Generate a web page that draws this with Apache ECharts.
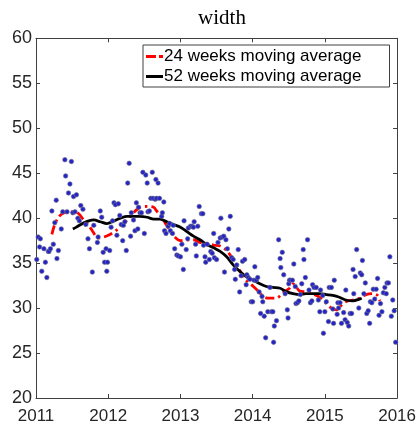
<!DOCTYPE html>
<html>
<head>
<meta charset="utf-8">
<script src="https://cdn.jsdelivr.net/npm/echarts@6/dist/echarts.min.js"></script>
<style>
html,body{margin:0;padding:0;background:#fff;}
#chart{width:419px;height:425px;}
</style>
</head>
<body>
<div id="chart"></div>
<script>
// ---- data (decimal year, width) ----
const titleText = 'width';
const seriesNames = ['24 weeks moving average', '52 weeks moving average'];
const xTicks = [2011, 2012, 2013, 2014, 2015, 2016];
const yTicks = [20, 25, 30, 35, 40, 45, 50, 55, 60];

const scatterPoints = [
[2011.01,35.4],[2011.03,37.9],[2011.05,36.8],[2011.06,37.7],[2011.08,34.1],[2011.11,36.6],[2011.13,35.1],[2011.15,33.4],
[2011.17,36.3],[2011.18,36.3],[2011.20,36.6],[2011.22,40.8],[2011.24,37.1],[2011.26,39.5],[2011.28,42.0],[2011.29,35.5],
[2011.31,36.4],[2011.35,38.8],[2011.37,40.7],[2011.40,46.5],[2011.41,44.7],[2011.43,40.7],[2011.45,42.8],[2011.47,43.8],
[2011.49,46.3],[2011.51,40.6],[2011.52,42.4],[2011.54,40.7],[2011.56,42.6],[2011.58,40.0],[2011.60,39.7],[2011.62,41.4],
[2011.65,41.0],[2011.69,39.3],[2011.72,37.7],[2011.74,36.6],[2011.78,34.0],[2011.80,39.2],[2011.85,37.3],[2011.86,37.9],
[2011.89,40.8],[2011.91,40.1],[2011.93,36.2],[2011.95,35.1],[2011.97,36.6],[2011.98,34.1],[2011.99,35.1],[2012.02,36.4],
[2012.04,39.0],[2012.06,39.7],[2012.08,41.7],[2012.10,41.5],[2012.12,38.1],[2012.14,41.6],[2012.16,40.3],[2012.18,39.3],
[2012.20,37.5],[2012.21,39.2],[2012.23,39.6],[2012.25,36.4],[2012.27,43.9],[2012.29,46.1],[2012.31,38.0],[2012.32,40.6],
[2012.35,39.8],[2012.37,38.6],[2012.39,41.7],[2012.41,38.8],[2012.42,41.2],[2012.44,40.6],[2012.46,40.6],[2012.48,45.1],
[2012.50,38.3],[2012.52,44.8],[2012.54,43.9],[2012.55,40.7],[2012.57,40.8],[2012.59,42.2],[2012.61,45.1],[2012.62,42.2],
[2012.65,42.1],[2012.66,44.3],[2012.67,42.2],[2012.69,43.9],[2012.71,42.2],[2012.74,40.2],[2012.75,40.6],[2012.77,41.8],
[2012.78,38.6],[2012.80,38.3],[2012.83,39.1],[2012.85,39.4],[2012.86,38.6],[2012.89,38.3],[2012.90,39.2],[2012.92,36.6],
[2012.95,35.9],[2012.97,35.8],[2013.00,35.7],[2013.02,37.1],[2013.04,34.3],[2013.05,39.7],[2013.08,36.5],[2013.10,37.7],
[2013.11,38.9],[2013.14,39.1],[2013.16,39.1],[2013.18,39.0],[2013.19,39.6],[2013.21,37.1],[2013.22,35.8],[2013.24,39.1],
[2013.26,41.3],[2013.29,40.5],[2013.31,40.5],[2013.32,37.0],[2013.34,35.7],[2013.35,35.1],[2013.37,37.1],[2013.40,35.4],
[2013.42,36.3],[2013.44,36.1],[2013.46,38.3],[2013.47,35.6],[2013.50,35.4],[2013.52,37.3],[2013.55,37.8],[2013.56,40.0],
[2013.58,37.9],[2013.60,38.0],[2013.61,34.0],[2013.63,37.6],[2013.65,36.6],[2013.67,38.8],[2013.69,40.2],[2013.71,35.6],
[2013.73,35.4],[2013.75,34.3],[2013.76,33.2],[2013.78,34.8],[2013.80,36.5],[2013.82,31.8],[2013.84,33.6],[2013.86,35.2],
[2013.89,35.4],[2013.91,32.6],[2013.92,33.7],[2013.94,33.4],[2013.96,33.2],[2013.98,30.7],[2014.00,30.7],[2014.02,33.1],
[2014.03,34.6],[2014.05,33.1],[2014.07,33.4],[2014.09,31.8],[2014.11,29.4],[2014.13,31.3],[2014.14,30.7],[2014.16,29.1],
[2014.18,26.7],[2014.21,29.6],[2014.24,32.3],[2014.26,29.6],[2014.28,29.6],[2014.29,26.2],[2014.30,28.0],[2014.33,28.6],
[2014.36,37.6],[2014.38,35.5],[2014.39,34.5],[2014.41,36.2],[2014.43,33.7],[2014.45,31.6],[2014.48,29.8],[2014.49,28.9],
[2014.50,32.7],[2014.51,33.1],[2014.52,33.1],[2014.55,33.1],[2014.57,34.9],[2014.59,32.4],[2014.60,30.5],[2014.62,30.6],
[2014.64,30.8],[2014.66,31.5],[2014.68,32.7],[2014.70,36.5],[2014.71,35.4],[2014.73,33.4],[2014.76,37.6],[2014.78,32.0],
[2014.80,30.6],[2014.82,30.8],[2014.83,32.6],[2014.85,32.3],[2014.88,32.3],[2014.91,30.9],[2014.93,29.6],[2014.94,32.0],
[2014.97,31.4],[2014.98,27.2],[2015.00,29.6],[2015.02,30.7],[2015.05,28.5],[2015.06,32.3],[2015.09,32.3],[2015.11,29.9],
[2015.12,28.3],[2015.13,33.1],[2015.17,29.3],[2015.18,30.6],[2015.19,30.0],[2015.21,30.6],[2015.23,28.3],[2015.26,29.5],
[2015.28,28.7],[2015.29,32.0],[2015.31,28.4],[2015.33,28.0],[2015.35,29.4],[2015.37,29.4],[2015.39,34.3],[2015.40,31.6],
[2015.42,33.5],[2015.44,36.5],[2015.47,30.0],[2015.49,33.9],[2015.51,33.7],[2015.52,35.3],[2015.54,31.6],[2015.56,32.8],
[2015.58,29.4],[2015.60,29.7],[2015.62,28.3],[2015.63,30.7],[2015.65,30.6],[2015.67,32.1],[2015.69,31.0],[2015.71,32.1],
[2015.73,33.3],[2015.75,29.2],[2015.77,30.5],[2015.79,29.6],[2015.81,31.7],[2015.83,32.3],[2015.85,31.6],[2015.86,32.8],
[2015.88,32.8],[2015.90,35.7],[2015.92,29.1],[2015.94,30.9],[2015.96,29.7],[2015.98,26.2]
];

const ma24 = [
[2011.22,38.2],[2011.26,39.3],[2011.32,40.2],[2011.39,40.6],[2011.45,40.7],[2011.52,40.7],[2011.59,40.5],[2011.64,40.0],
[2011.71,39.4],[2011.78,38.6],[2011.82,38.1],[2011.86,37.8],[2011.94,37.9],[2012.03,38.2],[2012.12,38.7],[2012.20,39.3],
[2012.26,39.8],[2012.35,40.6],[2012.44,41.2],[2012.54,41.3],[2012.63,41.2],[2012.67,40.8],[2012.74,40.1],[2012.81,39.2],
[2012.90,38.1],[2013.00,37.5],[2013.09,37.6],[2013.18,37.6],[2013.27,37.3],[2013.36,37.2],[2013.46,37.0],[2013.55,36.9],
[2013.64,36.4],[2013.73,35.4],[2013.82,34.2],[2013.91,33.1],[2014.01,32.4],[2014.10,31.7],[2014.14,31.3],[2014.22,31.1],
[2014.28,31.1],[2014.33,31.1],[2014.42,31.7],[2014.51,32.2],[2014.56,32.7],[2014.59,32.5],[2014.65,31.9],[2014.74,31.8],
[2014.83,31.6],[2014.93,31.2],[2015.02,30.5],[2015.09,30.0],[2015.16,29.8],[2015.20,30.1],[2015.29,30.7],[2015.39,30.9],
[2015.48,31.1],[2015.57,31.5],[2015.66,31.6],[2015.73,31.4],[2015.76,30.8]
];

const ma52 = [
[2011.51,38.8],[2011.56,39.0],[2011.62,39.3],[2011.67,39.5],[2011.73,39.7],[2011.80,39.8],[2011.89,39.6],[2011.98,39.4],
[2012.08,39.7],[2012.17,40.0],[2012.26,40.2],[2012.35,40.2],[2012.44,40.2],[2012.54,40.1],[2012.63,39.9],[2012.72,39.9],
[2012.81,39.6],[2012.90,39.3],[2013.00,39.0],[2013.09,38.5],[2013.18,38.0],[2013.27,37.6],[2013.36,37.1],[2013.46,36.7],
[2013.55,36.3],[2013.64,35.7],[2013.73,34.8],[2013.82,34.1],[2013.91,33.5],[2014.01,33.1],[2014.10,32.7],[2014.19,32.4],
[2014.28,32.3],[2014.38,32.2],[2014.47,31.8],[2014.56,31.6],[2014.65,31.5],[2014.74,31.6],[2014.83,31.6],[2014.93,31.6],
[2015.02,31.5],[2015.11,31.4],[2015.20,31.2],[2015.29,30.9],[2015.39,30.8],[2015.48,31.0],[2015.51,31.1]
];

const chart = echarts.init(document.getElementById('chart'), null, {renderer: 'canvas'});
const axisColor = '#262626';
const frameColor = '#404040';
const sansFont = 'Liberation Sans, Arial, sans-serif';

const baseAxis = {
  axisLine: {show: true, onZero: false, lineStyle: {color: frameColor, width: 1}},
  axisTick: {show: true, inside: true, length: 4, lineStyle: {color: frameColor, width: 1}},
  splitLine: {show: false}
};

const option = {
  backgroundColor: '#ffffff',
  animation: false,
  title: {
    text: titleText,
    left: 217, textAlign: 'center', top: 3,
    textStyle: {fontFamily: 'Liberation Serif, serif', fontSize: 21, fontWeight: 'normal', color: '#000'}
  },
  grid: {left: 36, right: 20.5, top: 38.3, bottom: 26.7, containLabel: false},
  legend: {
    orient: 'vertical',
    left: 143, top: 45,
    backgroundColor: '#fff',
    borderColor: frameColor, borderWidth: 1,
    padding: [3, 28, 2, 3],
    itemWidth: 17, itemHeight: 3, itemGap: 3,
    textStyle: {fontFamily: sansFont, fontSize: 17, color: '#000', padding: [0,0,0,-4]},
    data: [
      {name: seriesNames[0], icon: 'path://M0,0h10v3h-10z M13,0h4v3h-4z'},
      {name: seriesNames[1], icon: 'rect'}
    ]
  },
  xAxis: [
    Object.assign({}, baseAxis, {
      type: 'value', position: 'bottom', min: xTicks[0], max: xTicks[xTicks.length-1], interval: 1,
      axisLabel: {show: true, margin: 10, fontFamily: sansFont, fontSize: 17, color: axisColor, formatter: v => String(v)}
    }),
    Object.assign({}, baseAxis, {
      type: 'value', position: 'top', min: xTicks[0], max: xTicks[xTicks.length-1], interval: 1,
      axisLabel: {show: false}
    })
  ],
  yAxis: [
    Object.assign({}, baseAxis, {
      type: 'value', position: 'left', min: yTicks[0], max: yTicks[yTicks.length-1], interval: 5,
      axisLabel: {show: true, margin: 4, fontFamily: sansFont, fontSize: 18, color: axisColor}
    }),
    Object.assign({}, baseAxis, {
      type: 'value', position: 'right', min: yTicks[0], max: yTicks[yTicks.length-1], interval: 5,
      axisLabel: {show: false}
    })
  ],
  series: [
    {
      name: seriesNames[0], type: 'line', data: ma24, symbol: 'none', smooth: 0.3, z: 3,
      lineStyle: {color: '#ff0000', width: 2.8, type: [9, 4, 2.5, 4]},
      itemStyle: {color: '#ff0000'}
    },
    {
      name: seriesNames[1], type: 'line', data: ma52, symbol: 'none', smooth: 0.3, z: 3,
      lineStyle: {color: '#000000', width: 2.8, type: 'solid'},
      itemStyle: {color: '#000000'}
    },
    {
      name: 'data', type: 'scatter', data: scatterPoints, symbol: 'circle', symbolSize: 4.5, z: 4,
      itemStyle: {color: '#2323c8', borderColor: 'rgba(110,110,140,0.8)', borderWidth: 0.8, opacity: 1}
    }
  ]
};
chart.setOption(option);
</script>
</body>
</html>
